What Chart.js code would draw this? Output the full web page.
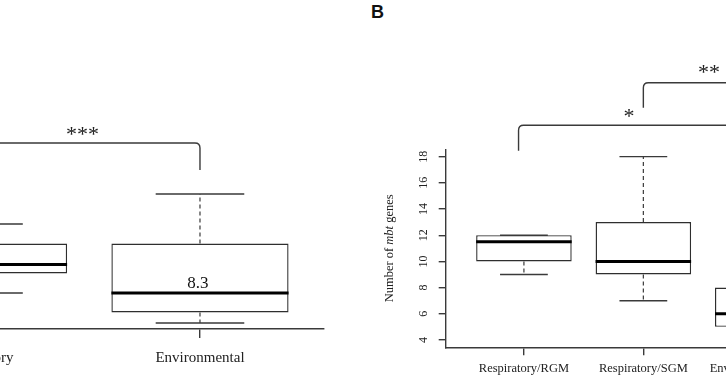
<!DOCTYPE html>
<html lang="en">
<head>
<meta charset="UTF-8">
<title>Number of mbt genes</title>
<script src="https://cdn.jsdelivr.net/npm/chart.js"></script>
<style>
  html, body { margin: 0; padding: 0; width: 726px; height: 380px; overflow: hidden; background: #fff; }
  canvas { position: absolute; top: 0; }
  #leftChart { left: -300px; }
  #rightChart { left: 360px; }
  .panel-letter { position: absolute; left: 371px; top: 3px; font: bold 18px "Liberation Sans", Arial, sans-serif; line-height: 18px; color: #111; }
</style>
</head>
<body>
<div class="panel-letter">B</div>
<canvas id="leftChart" width="640" height="380"></canvas>
<canvas id="rightChart" width="520" height="380"></canvas>

<script>
const serif = '"Liberation Serif", "Times New Roman", serif';
const lineGrey = '#3a3a3a';

// panel A (cut off on the left side of the figure)
const leftCats = ['Respiratory', 'Environmental'];
const leftMin = [8.3, 6.3];
const leftQ1 = [9.6, 7.0];
const leftMed = [10.2, 8.3];
const leftQ3 = [11.6, 11.6];
const leftMax = [12.9, 14.9];
const leftNotes = [{ x: 1.99, y: 8.63, text: '8.3' }];
const leftBrackets = [{ from: 1, to: 2, y: 18.3, drop: 1.8, label: '***', labelX: 1.47, labelY: 19.2 }];

// panel B
const rightCats = ['Respiratory/RGM', 'Respiratory/SGM', 'Environmental/RGM'];
const rightMin = [9, 7, 4];
const rightQ1 = [10, 9, 5];
const rightMed = [11.5, 10, 6];
const rightQ3 = [12, 13, 8];
const rightMax = [12, 18, 10];
const rightTicks = [4, 6, 8, 10, 12, 14, 16, 18];
const rightBrackets = [
    { from: 0.955, to: 3, y: 20.4, drop: 1.95, label: '*', labelX: 1.88, labelY: 21.48 },
    { from: 2, to: 3, y: 23.64, drop: 1.91, label: '**', labelX: 2.55, labelY: 24.84 }
];

// whiskers, caps and median line on top of the floating-bar boxes
function boxParts(cfg) {
    return {
        id: 'boxParts',
        afterDatasetsDraw(chart) {
            const { ctx } = chart;
            const x = chart.scales.x, y = chart.scales.y;
            const bars = chart.getDatasetMeta(0).data;
            ctx.save();
            cfg.med.forEach((m, i) => {
                const cx = x.getPixelForValue(i + 1);
                const half = bars[i].width / 2;
                const cap = half / 2;
                const yMin = y.getPixelForValue(cfg.min[i]);
                const yMax = y.getPixelForValue(cfg.max[i]);

                ctx.strokeStyle = lineGrey;
                ctx.lineWidth = 1.2;
                ctx.setLineDash([4, 3]);
                ctx.beginPath();
                ctx.moveTo(cx, y.getPixelForValue(cfg.q3[i]));
                ctx.lineTo(cx, yMax);
                ctx.moveTo(cx, y.getPixelForValue(cfg.q1[i]));
                ctx.lineTo(cx, yMin);
                ctx.stroke();

                ctx.setLineDash([]);
                ctx.lineWidth = 1.4;
                ctx.beginPath();
                ctx.moveTo(cx - cap, yMax);
                ctx.lineTo(cx + cap, yMax);
                ctx.moveTo(cx - cap, yMin);
                ctx.lineTo(cx + cap, yMin);
                ctx.stroke();

                ctx.strokeStyle = '#000';
                ctx.lineWidth = 3;
                ctx.beginPath();
                ctx.moveTo(cx - half, y.getPixelForValue(m));
                ctx.lineTo(cx + half, y.getPixelForValue(m));
                ctx.stroke();
            });
            ctx.restore();
        }
    };
}

// significance brackets, value notes and the y title
function annotations(cfg) {
    return {
        id: 'annotations',
        afterDraw(chart) {
            const { ctx } = chart;
            const x = chart.scales.x, y = chart.scales.y;
            ctx.save();
            cfg.brackets.forEach(b => {
                const x1 = x.getPixelForValue(b.from), x2 = x.getPixelForValue(b.to);
                const yt = y.getPixelForValue(b.y), yb = y.getPixelForValue(b.y - b.drop);
                const r = 5;
                ctx.strokeStyle = lineGrey;
                ctx.lineWidth = 1.4;
                ctx.beginPath();
                ctx.moveTo(x1, yb);
                ctx.lineTo(x1, yt + r);
                ctx.quadraticCurveTo(x1, yt, x1 + r, yt);
                ctx.lineTo(x2 - r, yt);
                ctx.quadraticCurveTo(x2, yt, x2, yt + r);
                ctx.lineTo(x2, yb);
                ctx.stroke();

                ctx.fillStyle = '#222';
                ctx.font = '22px ' + serif;
                ctx.textAlign = 'center';
                ctx.textBaseline = 'alphabetic';
                ctx.fillText(b.label, x.getPixelForValue(b.labelX), y.getPixelForValue(b.labelY) + 22 * 0.53);
            });

            (cfg.notes || []).forEach(n => {
                ctx.fillStyle = '#111';
                ctx.font = '17px ' + serif;
                ctx.textAlign = 'center';
                ctx.textBaseline = 'alphabetic';
                ctx.fillText(n.text, x.getPixelForValue(n.x), y.getPixelForValue(n.y));
            });

            if (cfg.yTitle) {
                const area = chart.chartArea;
                const fonts = cfg.yTitle.map(p => (p[1] ? 'italic ' : '') + '12.5px ' + serif);
                let total = 0;
                const widths = cfg.yTitle.map((p, i) => {
                    ctx.font = fonts[i];
                    const w = ctx.measureText(p[0]).width;
                    total += w;
                    return w;
                });
                ctx.translate(cfg.yTitleX, (area.top + area.bottom) / 2);
                ctx.rotate(-Math.PI / 2);
                ctx.fillStyle = '#222';
                ctx.textAlign = 'left';
                ctx.textBaseline = 'middle';
                let pos = -total / 2;
                cfg.yTitle.forEach((p, i) => {
                    ctx.font = fonts[i];
                    ctx.fillText(p[0], pos, 0);
                    pos += widths[i];
                });
            }
            ctx.restore();
        }
    };
}

function makeChart(id, cfg) {
    return new Chart(document.getElementById(id), {
        type: 'bar',
        data: {
            datasets: [{
                data: cfg.q1.map((q, i) => ({ x: i + 1, y: [q, cfg.q3[i]] })),
                backgroundColor: '#fff',
                borderColor: '#2e2e2e',
                borderWidth: 1.4,
                borderSkipped: false,
                barPercentage: 0.8,
                categoryPercentage: 1
            }]
        },
        options: {
            responsive: false,
            animation: false,
            devicePixelRatio: 1,
            layout: { autoPadding: false, padding: cfg.padding },
            plugins: { legend: { display: false }, tooltip: { enabled: false } },
            scales: {
                x: {
                    type: 'linear',
                    offset: false,
                    min: cfg.xMin,
                    max: cfg.xMax,
                    afterBuildTicks: s => { s.ticks = cfg.cats.map((c, i) => ({ value: i + 1 })); },
                    afterFit: s => { s.height = cfg.xHeight; },
                    border: { color: lineGrey, width: 1.4 },
                    grid: { drawOnChartArea: false, offset: false, color: lineGrey, lineWidth: 1.4, tickLength: cfg.tickLen },
                    ticks: {
                        autoSkip: false,
                        maxRotation: 0,
                        padding: cfg.labelPad,
                        color: '#222',
                        font: { family: serif, size: cfg.labelSize },
                        callback: v => cfg.cats[v - 1]
                    }
                },
                y: cfg.y
            }
        },
        plugins: [boxParts(cfg), annotations(cfg)]
    });
}

makeChart('leftChart', {
    cats: leftCats, min: leftMin, q1: leftQ1, med: leftMed, q3: leftQ3, max: leftMax,
    notes: leftNotes, brackets: leftBrackets,
    padding: { left: 154.5, right: 16, top: 150, bottom: 0 },
    xMin: 0.44, xMax: 2.56, xHeight: 51, tickLen: 9, labelPad: 11, labelSize: 15,
    y: { display: false, min: 5.9, max: 17.83 }
});

makeChart('rightChart', {
    cats: rightCats, min: rightMin, q1: rightQ1, med: rightMed, q3: rightQ3, max: rightMax,
    brackets: rightBrackets,
    yTitle: [['Number of ', false], ['mbt', true], [' genes', false]],
    yTitleX: 30,
    padding: { left: 0, right: 39, top: 149.3, bottom: 0 },
    xMin: 0.345, xMax: 3.655, xHeight: 32.7, tickLen: 8, labelPad: 6, labelSize: 12.5,
    y: {
        min: 3.44,
        max: 18.56,
        afterBuildTicks: s => { s.ticks = rightTicks.map(v => ({ value: v })); },
        afterFit: s => { s.width = 85.7; },
        border: { color: lineGrey, width: 1.4 },
        grid: { drawOnChartArea: false, color: lineGrey, lineWidth: 1.4, tickLength: 7 },
        ticks: {
            autoSkip: false,
            minRotation: 90,
            maxRotation: 90,
            crossAlign: 'center',
            padding: 9,
            color: '#222',
            font: { family: serif, size: 12 }
        }
    }
});
</script>
</body>
</html>
